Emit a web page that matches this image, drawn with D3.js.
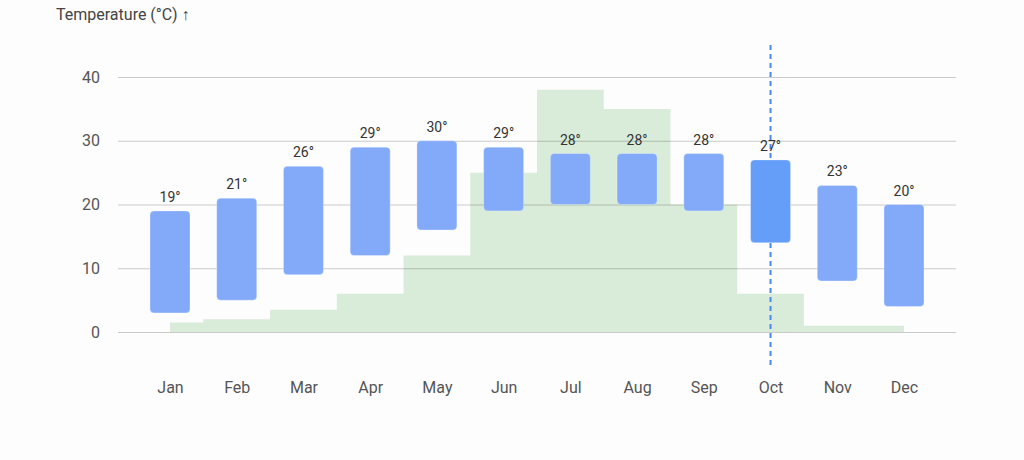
<!DOCTYPE html>
<html>
<head>
<meta charset="utf-8">
<script src="https://cdn.jsdelivr.net/npm/d3@7"></script>
<style>
  body { margin: 0; background: #fdfdfd; }
  svg { display: block; font-family: Roboto, "Noto Sans", sans-serif; }
</style>
</head>
<body>
<div id="chart"></div>
<script>
const months = ["Jan", "Feb", "Mar", "Apr", "May", "Jun", "Jul", "Aug", "Sep", "Oct", "Nov", "Dec"];
const tempLow = [3, 5, 9, 12, 16, 19, 20, 20, 19, 14, 8, 4];
const tempHigh = [19, 21, 26, 29, 30, 29, 28, 28, 28, 27, 23, 20];
const rain = [1.5, 2, 3.5, 6, 12, 25, 38, 35, 20, 6, 1, 1];
const yTicks = [0, 10, 20, 30, 40];
const selectedMonth = "Oct";

const width = 1024;
const height = 460;

const svg = d3
  .select("#chart")
  .append("svg")
  .attr("width", width)
  .attr("height", height);

const x = d3.scalePoint().domain(months).range([170, 904]);
const y = d3.scaleLinear().domain([0, 40]).range([332, 77]);

// green step area behind everything
const area = d3
  .area()
  .x((d, i) => x(months[i]))
  .y0(y(0))
  .y1((d) => y(d))
  .curve(d3.curveStep);

svg.append("path").datum(rain).attr("d", area).attr("fill", "#d9ecd9");

// gridlines
const yAxis = d3.axisLeft(y).tickValues(yTicks).tickSize(-(956 - 118)).tickPadding(18);
svg
  .append("g")
  .attr("transform", "translate(118,0)")
  .call(yAxis)
  .call((g) => g.select(".domain").remove())
  .call((g) => g.selectAll(".tick line").attr("stroke", "#000").attr("stroke-opacity", 0.2).attr("stroke-width", 1.2))
  .call((g) => g.selectAll(".tick text").attr("fill", "#555").attr("font-size", 16).attr("font-family", "Roboto, sans-serif"));

// x labels
const xAxis = d3.axisBottom(x).tickSize(0).tickPadding(0);
svg
  .append("g")
  .attr("transform", "translate(0,382)")
  .call(xAxis)
  .call((g) => g.select(".domain").remove())
  .call((g) => g.selectAll(".tick text").attr("fill", "#555").attr("font-size", 16).attr("font-family", "Roboto, sans-serif"));

// selection line
svg
  .append("line")
  .attr("x1", x(selectedMonth))
  .attr("x2", x(selectedMonth))
  .attr("y1", 45)
  .attr("y2", 365)
  .attr("stroke", "#4a88ee")
  .attr("stroke-width", 2)
  .attr("stroke-dasharray", "5,4");

// range bars
const barW = 40;
svg
  .selectAll(".bar")
  .data(months)
  .join("rect")
  .attr("class", "bar")
  .attr("x", (d) => x(d) - barW / 2)
  .attr("y", (d, i) => y(tempHigh[i]))
  .attr("width", barW)
  .attr("height", (d, i) => y(tempLow[i]) - y(tempHigh[i]))
  .attr("rx", 4)
  .attr("fill", (d) => (d === selectedMonth ? "#659ef8" : "#82aaf9"))
  .attr("stroke", "#fff")
  .attr("stroke-opacity", 0.3)
  .attr("stroke-width", 1);

svg
  .selectAll(".label")
  .data(months)
  .join("text")
  .attr("class", "label")
  .attr("x", (d) => x(d))
  .attr("y", (d, i) => y(tempHigh[i]) - 9)
  .attr("text-anchor", "middle")
  .attr("font-size", 14)
  .attr("fill", "#333")
  .text((d, i) => tempHigh[i] + "°");

svg
  .append("text")
  .attr("x", 56)
  .attr("y", 20)
  .attr("font-size", 16)
  .attr("fill", "#444")
  .text("Temperature (°C) ↑");
</script>
</body>
</html>
